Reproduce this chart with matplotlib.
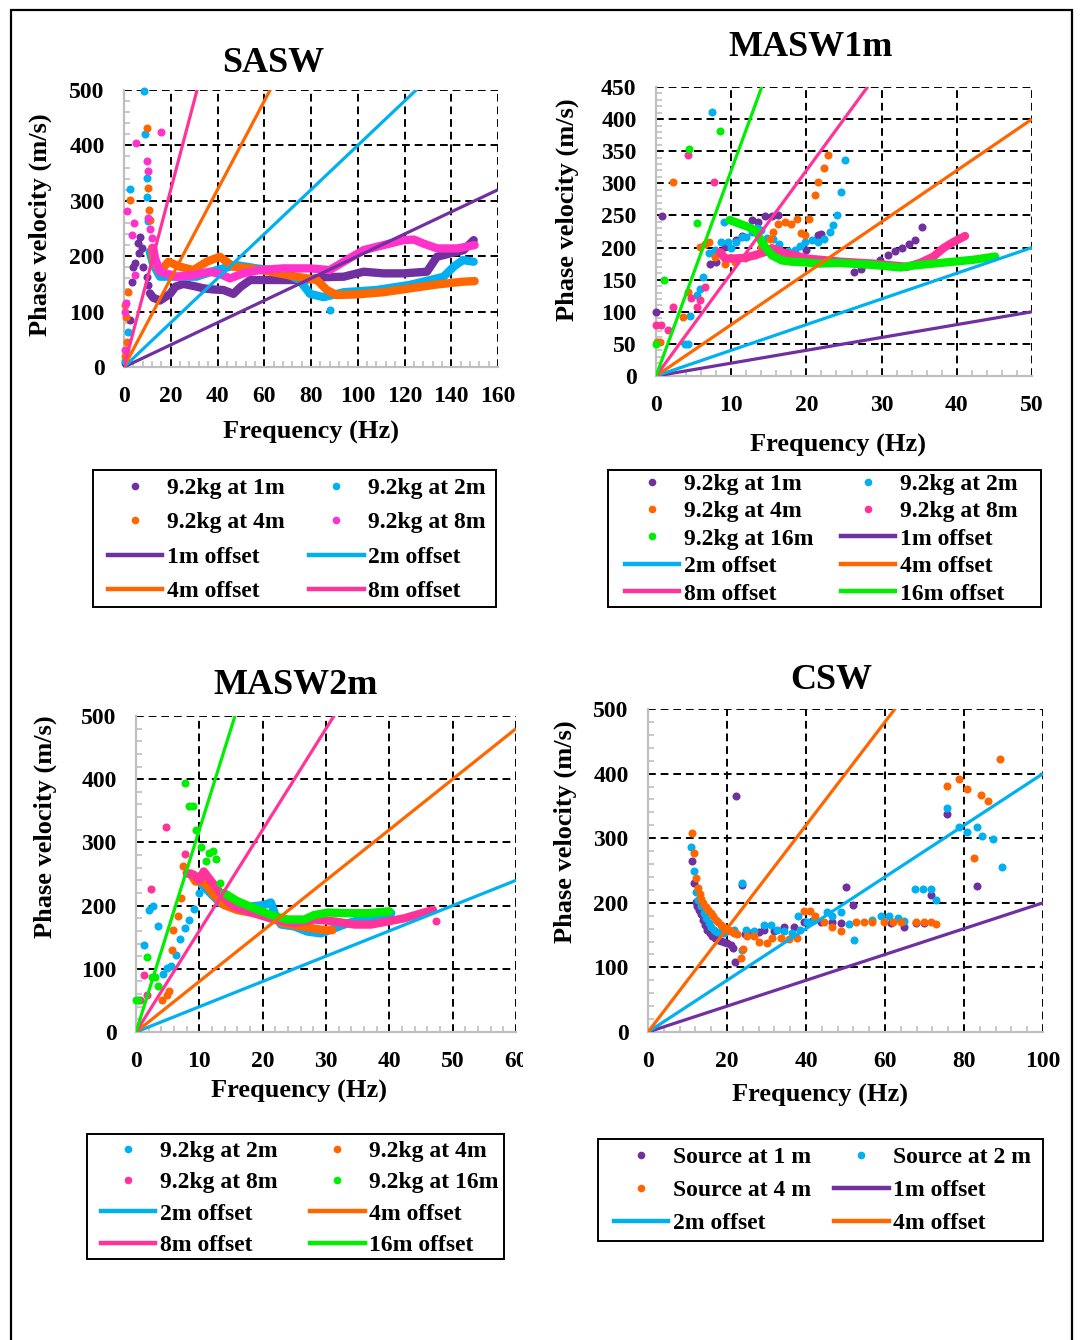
import matplotlib
matplotlib.use('Agg')
import matplotlib.pyplot as plt
from matplotlib.lines import Line2D
from matplotlib.ticker import MultipleLocator
from matplotlib.patches import Rectangle
from matplotlib.transforms import Bbox, TransformedBbox

plt.rcParams['font.family'] = ['Liberation Serif', 'DejaVu Serif']
plt.rcParams['font.weight'] = 'bold'

PURPLE = '#7030A0'
CYAN = '#00B0F0'
ORANGE = '#FF6600'
PINK = '#FF3399'
MAGENTA = '#FF33CC'
GREEN = '#00EE00'

# ---------------- SASW: (frequency Hz, phase velocity m/s) ----------------
sasw_offsets = [1, 2, 4, 8]
sasw_1m_dots = [(0.4, 7), (2.6, 85), (3.3, 154), (4.0, 181), (4.7, 187), (5.9, 223),
                (6.9, 235), (7.6, 214), (6.5, 205), (8.3, 181), (9.7, 163), (10.4, 148)]
sasw_1m_track = [(11.1, 133), (12.5, 125), (15.4, 120), (19.7, 132), (22.0, 145), (25.4, 150),
                 (30.0, 146), (34.0, 142), (38.0, 140), (42.5, 139), (46.8, 132), (50.0, 145),
                 (54.0, 157), (61.0, 157), (68.0, 157), (76.8, 157), (85.4, 162), (94.0, 163),
                 (102.5, 172), (111.0, 169), (119.6, 169), (129.6, 172), (133.9, 199),
                 (139.6, 205), (145.3, 211), (149.6, 229)]
sasw_2m_dots = [(0.4, 10), (1.0, 30), (1.9, 64), (2.6, 321), (8.6, 498), (9.0, 420),
                (9.7, 342), (10.0, 306), (10.4, 263), (88.0, 102)]
sasw_2m_track = [(11.0, 208), (12.5, 185), (15.4, 163), (21.4, 163), (31.0, 163), (39.7, 175),
                 (48.0, 184), (56.8, 178), (68.0, 172), (75.0, 157), (79.6, 132), (85.4, 126),
                 (94.0, 135), (108.0, 139), (122.0, 148), (131.0, 157), (136.7, 163),
                 (141.0, 181), (145.0, 193), (149.6, 190)]
sasw_4m_dots = [(0.4, 112), (0.7, 91), (1.1, 46), (0.5, 20), (1.9, 136), (2.6, 302),
                (9.7, 431), (10.4, 323), (10.9, 284), (11.2, 265)]
sasw_4m_track = [(12.0, 215), (12.6, 193), (15.4, 172), (19.0, 190), (24.0, 181), (29.7, 175),
                 (35.4, 190), (41.0, 199), (46.8, 181), (54.0, 178), (62.5, 172), (74.0, 163),
                 (82.5, 157), (86.8, 139), (91.0, 130), (99.6, 131), (111.0, 135),
                 (122.5, 142), (134.0, 149), (145.0, 154), (150.0, 155)]
sasw_8m_dots = [(0.4, 30), (0.3, 100), (0.7, 115), (1.1, 281), (3.6, 239), (4.3, 260),
                (5.0, 404), (4.7, 166), (9.7, 371), (10.4, 353), (10.4, 269), (11.0, 250),
                (11.9, 232), (15.7, 425)]
sasw_8m_track = [(12.5, 215), (13.3, 196), (15.4, 172), (22.5, 163), (29.7, 166), (36.8, 172),
                 (41.0, 168), (45.4, 160), (51.0, 169), (58.0, 175), (68.0, 178), (79.6, 178),
                 (88.0, 175), (94.0, 190), (102.5, 211), (111.0, 220), (119.6, 229),
                 (124.0, 230), (128.0, 223), (134.0, 214), (142.5, 214), (150.0, 220)]

# ---------------- MASW with 1 m spacing ----------------
masw1_offsets = [1, 2, 4, 8, 16]
masw1_1m_dots = [(0.0, 100), (0.84, 249), (7.2, 174), (8.0, 178), (9.2, 201), (10.7, 212),
                 (11.5, 218), (12.7, 243), (13.6, 240), (14.5, 249), (15.4, 249), (16.2, 250),
                 (20.0, 196), (21.6, 220), (22.0, 221), (26.3, 162), (27.2, 166), (29.8, 181),
                 (30.9, 189), (31.8, 195), (32.7, 200), (33.6, 205), (34.5, 212), (35.4, 232)]
masw1_2m_dots = [(3.85, 50), (4.3, 50), (4.5, 94), (5.5, 126), (5.9, 135), (6.3, 154),
                 (7.0, 191), (7.5, 411), (7.8, 196), (8.6, 209), (9.0, 240), (9.6, 209),
                 (10.0, 199), (10.7, 209), (11.4, 217), (12.0, 217), (12.7, 225), (13.4, 230),
                 (14.0, 228), (14.8, 215), (15.5, 213), (16.3, 205), (17.5, 195), (18.5, 196),
                 (19.2, 203), (19.8, 209), (20.7, 212), (21.5, 209), (22.4, 214), (23.1, 225),
                 (23.6, 235), (24.1, 250), (24.6, 287), (25.1, 336)]
masw1_4m_dots = [(0.1, 53), (0.5, 53), (2.3, 302), (3.6, 92), (4.2, 131), (5.8, 201),
                 (6.5, 205), (7.0, 209), (7.8, 185), (9.2, 175), (10.5, 178), (11.8, 183),
                 (13.1, 188), (14.0, 201), (15.1, 214), (15.6, 225), (16.2, 237), (17.1, 240),
                 (18.0, 237), (18.7, 245), (19.3, 222), (19.8, 219), (20.4, 245), (21.1, 282),
                 (21.6, 302), (22.3, 324), (22.9, 344)]
masw1_8m_dots = [(0.0, 79), (0.6, 79), (1.6, 71), (2.3, 108), (4.2, 344), (4.7, 121),
                 (5.4, 108), (5.8, 118), (6.5, 139), (7.7, 302)]
masw1_8m_track = [(8.5, 193), (9.2, 183), (10.5, 183), (11.8, 184), (13.1, 188), (14.5, 193),
                  (15.4, 199), (16.2, 196), (17.1, 191), (18.5, 188), (20.0, 183), (24.5, 178),
                  (28.9, 175), (33.4, 170), (35.1, 176), (36.9, 186), (38.2, 199), (39.6, 209),
                  (41.1, 218)]
masw1_16m_dots = [(0.0, 50), (1.0, 149), (4.4, 353), (5.4, 239), (8.5, 382)]
masw1_16m_track = [(9.8, 243), (10.9, 238), (12.3, 232), (13.4, 225), (13.8, 214), (14.5, 201),
                   (15.4, 188), (16.7, 180), (18.0, 178), (19.8, 177), (21.5, 175), (24.5, 176),
                   (28.9, 173), (32.5, 169), (34.2, 172), (37.8, 176), (42.2, 181), (45.1, 186)]

# ---------------- MASW with 2 m spacing ----------------
masw2_offsets = [2, 4, 8, 16]
masw2_2m_dots = [(1.3, 138), (2.0, 193), (2.75, 200), (3.4, 168), (4.2, 91), (4.9, 101),
                 (5.6, 104), (6.3, 122), (7.0, 147), (7.7, 164), (8.4, 178), (9.1, 194),
                 (9.9, 220)]
masw2_2m_track = [(10.4, 233), (11.7, 220), (13.3, 204), (15.4, 196), (18.6, 199), (20.2, 201),
                  (21.3, 205), (22.0, 185), (22.9, 170), (25.0, 167), (27.0, 159), (29.2, 156),
                  (30.8, 162), (33.4, 172), (35.6, 178), (37.7, 183), (40.3, 188)]
masw2_4m_dots = [(4.1, 51), (4.9, 59), (5.2, 65), (5.7, 130), (5.9, 162), (6.6, 184),
                 (7.1, 212), (7.4, 263)]
masw2_4m_track = [(8.6, 251), (9.4, 238), (10.7, 238), (12.3, 217), (13.9, 201), (16.0, 193),
                  (18.6, 188), (21.3, 183), (22.9, 173), (26.0, 167), (29.2, 162), (31.0, 161)]
masw2_8m_dots = [(0.6, 51), (1.2, 90), (1.7, 59), (2.3, 227), (4.8, 325), (7.8, 282), (47.3, 175)]
masw2_8m_track = [(8.0, 251), (9.1, 249), (10.0, 240), (10.7, 254), (11.7, 241), (13.3, 220),
                  (15.4, 199), (18.6, 188), (21.8, 178), (25.0, 172), (28.1, 178), (31.3, 175),
                  (34.5, 170), (37.1, 170), (39.8, 175), (42.4, 180), (45.1, 188), (46.9, 193)]
masw2_16m_dots = [(0.0, 51), (0.3, 51), (1.7, 119), (2.5, 87), (3.0, 87), (3.5, 73),
                  (7.8, 394), (8.3, 358), (9.0, 358), (9.5, 320), (10.2, 293), (11.0, 270),
                  (11.5, 283), (12.1, 287), (12.7, 273), (13.2, 236)]
masw2_16m_track = [(13.9, 220), (16.0, 207), (18.6, 196), (21.3, 185), (23.9, 178), (26.6, 178),
                   (28.1, 185), (30.3, 189), (33.4, 188), (36.6, 188), (40.0, 191)]

# ---------------- CSW ----------------
csw_offsets = [1, 2, 4]
csw_1m = [(11.1, 265), (11.6, 230), (12.1, 202), (12.5, 195), (12.9, 189), (13.3, 182),
          (13.8, 174), (14.4, 166), (15.0, 158), (15.6, 153), (16.3, 148), (17.0, 145),
          (17.6, 143), (18.4, 141), (19.2, 140), (20.1, 137), (20.9, 135), (21.6, 130),
          (21.9, 109), (22.4, 366), (23.9, 227), (24.5, 152), (26.0, 153), (28.0, 155),
          (29.4, 158), (31.9, 157), (34.4, 162), (37.0, 163), (39.5, 170), (41.5, 172),
          (43.7, 171), (46.7, 171), (48.8, 169), (50.0, 224), (51.9, 197), (61.4, 169),
          (64.8, 163), (67.8, 169), (69.9, 168), (71.7, 212), (75.6, 337), (83.4, 226)]
csw_2m = [(11.0, 286), (11.6, 249), (12.1, 216), (12.7, 205), (13.4, 195), (14.2, 184),
          (14.8, 176), (15.4, 169), (16.0, 163), (16.7, 158), (17.5, 155), (18.4, 153),
          (19.3, 154), (20.1, 156), (21.0, 157), (21.8, 158), (23.9, 231), (23.9, 127),
          (24.7, 158), (26.8, 157), (29.4, 166), (31.1, 165), (32.7, 158), (34.4, 157),
          (36.5, 153), (38.0, 179), (38.6, 158), (40.3, 171), (42.0, 174), (45.4, 186),
          (46.7, 179), (48.8, 186), (50.9, 167), (52.2, 143), (56.8, 174), (59.1, 180),
          (61.0, 179), (63.3, 176), (64.8, 172), (67.6, 221), (69.7, 221), (71.7, 221),
          (72.8, 205), (75.6, 347), (78.7, 318), (80.8, 309), (83.4, 317), (84.6, 303),
          (87.3, 299), (89.7, 256)]
csw_4m = [(11.1, 308), (11.6, 277), (12.1, 238), (12.7, 223), (13.1, 214), (13.5, 206),
          (14.0, 200), (14.6, 194), (15.2, 189), (15.9, 184), (16.5, 179), (17.1, 174),
          (17.8, 170), (18.4, 166), (19.0, 163), (19.7, 161), (20.3, 158), (20.9, 156),
          (21.7, 153), (22.6, 151), (23.5, 115), (24.0, 128), (25.1, 148), (26.8, 148),
          (28.1, 139), (30.0, 137), (31.5, 145), (33.6, 145), (35.7, 144), (37.8, 145),
          (39.5, 188), (41.0, 188), (42.4, 179), (44.6, 171), (46.7, 163), (48.8, 157),
          (52.6, 171), (54.7, 171), (56.8, 171), (59.7, 171), (61.9, 171), (64.0, 171),
          (67.8, 171), (69.9, 171), (71.7, 171), (72.8, 167), (75.6, 381), (78.7, 392),
          (80.8, 376), (82.5, 269), (84.4, 367), (86.2, 358), (89.1, 422)]

OFFSET_COLORS = {1: PURPLE, 2: CYAN, 4: ORANGE, 8: PINK, 16: GREEN}

FS_TICK = 17
FS_LABEL = 19
FS_TITLE = 26
FS_LEG = 17
DOT = 5.8
W, H = 1081, 1340

fig = plt.figure(figsize=(W / 100, H / 100), dpi=100)

# outer frame
fig.add_artist(Rectangle((11 / W, -0.05), (1072 - 11) / W, 1 - 10 / H + 0.05,
                         transform=fig.transFigure, fill=False, edgecolor='black', lw=1.6))


def px_axes(l, r, t, b):
    return fig.add_axes([l / W, 1 - b / H, (r - l) / W, (b - t) / H])


def style(ax, xmax, xmaj, xmin, ymax, ymaj, ymin):
    ax.set_xlim(0, xmax)
    ax.set_ylim(0, ymax)
    ax.xaxis.set_major_locator(MultipleLocator(xmaj))
    ax.xaxis.set_minor_locator(MultipleLocator(xmin))
    ax.yaxis.set_major_locator(MultipleLocator(ymaj))
    ax.yaxis.set_minor_locator(MultipleLocator(ymin))
    ax.grid(True, which='major', color='black', lw=1.4, ls=(0, (4, 2.5)))
    for s in ('top', 'right'):
        ax.spines[s].set_visible(False)
    for s in ('left', 'bottom'):
        ax.spines[s].set_color('#BFBFBF')
        ax.spines[s].set_linewidth(1.6)
        ax.spines[s].set_zorder(2.6)
    ax.tick_params(which='major', length=0, pad=14, labelsize=FS_TICK)
    ax.tick_params(which='minor', direction='in', length=4, width=1.2, color='#BFBFBF')


def ref_lines(ax, offsets, xmax):
    for off in offsets:
        ax.plot([0, xmax], [0, 2 * off * xmax], color=OFFSET_COLORS[off], lw=2.3,
                zorder=4, solid_capstyle='butt')


def dots(ax, pts, color):
    f = [p[0] for p in pts]
    v = [p[1] for p in pts]
    ax.plot(f, v, 'o', color=color, ms=DOT, mec='none', zorder=3, clip_on=False)


def track(ax, pts, color):
    f = [p[0] for p in pts]
    v = [p[1] for p in pts]
    ax.plot(f, v, '-', color=color, lw=6.0, solid_capstyle='round',
            solid_joinstyle='round', zorder=3)


def labels(ax, title, tpos, xpos, ypos):
    ax.set_title(title, fontsize=FS_TITLE, fontweight='bold', x=tpos[0], y=tpos[1],
                 va='center', pad=0)
    ax.set_xlabel('Frequency (Hz)', fontsize=FS_LABEL, fontweight='bold')
    ax.xaxis.set_label_coords(*xpos)
    ax.xaxis.label.set_va('center')
    ax.set_ylabel('Phase velocity (m/s)', fontsize=FS_LABEL, fontweight='bold')
    ax.yaxis.set_label_coords(*ypos)
    ax.yaxis.label.set_va('center')


def dot_handle(color):
    return Line2D([], [], marker='o', ls='none', color=color, ms=5.5, mec='none')


def line_handle(color):
    return Line2D([], [], color=color, lw=3.2)


def legend(handles, labels_, box, handle_x, row1_y, colsp, spacing):
    l, r, t, b = box
    fig.add_artist(Rectangle((l / W, 1 - b / H), (r - l) / W, (b - t) / H,
                             transform=fig.transFigure, fill=False,
                             edgecolor='black', lw=1.4))
    leg = fig.legend(handles, labels_, ncol=2, loc='upper left',
                     bbox_to_anchor=(handle_x / W, 1 - (row1_y - 10.75) / H),
                     bbox_transform=fig.transFigure, borderaxespad=0, borderpad=0,
                     fontsize=FS_LEG, frameon=False, handlelength=2.3,
                     handletextpad=0.18, labelspacing=spacing, columnspacing=colsp)
    for t_ in leg.get_texts():
        t_.set_fontweight('bold')
    return leg


# ---- SASW ----
ax1 = px_axes(124, 498, 90, 367)
style(ax1, 160, 20, 4, 500, 100, 20)
dots(ax1, sasw_1m_dots, PURPLE)
track(ax1, sasw_1m_track, PURPLE)
dots(ax1, sasw_2m_dots, CYAN)
track(ax1, sasw_2m_track, CYAN)
dots(ax1, sasw_4m_dots, ORANGE)
track(ax1, sasw_4m_track, ORANGE)
dots(ax1, sasw_8m_dots, MAGENTA)
track(ax1, sasw_8m_track, MAGENTA)
ref_lines(ax1, sasw_offsets, 160)
labels(ax1, 'SASW', (0.398, 1.094), (0.5, -0.235), (-0.2246, 0.513))
legend([dot_handle(PURPLE), dot_handle(ORANGE), line_handle(PURPLE), line_handle(ORANGE),
        dot_handle(CYAN), dot_handle(MAGENTA), line_handle(CYAN), line_handle(PINK)],
       ['9.2kg at 1m', '9.2kg at 4m', '1m offset', '4m offset',
        '9.2kg at 2m', '9.2kg at 8m', '2m offset', '8m offset'],
       (93, 496, 470, 607), 108, 488, 1.06, 0.55)

# ---- MASW 1m ----
ax2 = px_axes(656, 1032, 87, 376)
style(ax2, 50, 10, 2, 450, 50, 10)
dots(ax2, masw1_1m_dots, PURPLE)
dots(ax2, masw1_2m_dots, CYAN)
dots(ax2, masw1_4m_dots, ORANGE)
dots(ax2, masw1_8m_dots, PINK)
track(ax2, masw1_8m_track, PINK)
dots(ax2, masw1_16m_dots, GREEN)
track(ax2, masw1_16m_track, GREEN)
ref_lines(ax2, masw1_offsets, 50)
labels(ax2, 'MASW1m', (0.412, 1.136), (0.484, -0.242), (-0.237, 0.574))
legend([dot_handle(PURPLE), dot_handle(ORANGE), dot_handle(GREEN), line_handle(CYAN),
        line_handle(PINK), dot_handle(CYAN), dot_handle(PINK), line_handle(PURPLE),
        line_handle(ORANGE), line_handle(GREEN)],
       ['9.2kg at 1m', '9.2kg at 4m', '9.2kg at 16m', '2m offset', '8m offset',
        '9.2kg at 2m', '9.2kg at 8m', '1m offset', '4m offset', '16m offset'],
       (608, 1041, 470, 607), 625, 484, 1.19, 0.25)

# ---- MASW 2m ----
ax3 = px_axes(136, 516, 716, 1032)
style(ax3, 60, 10, 2, 500, 100, 20)
dots(ax3, masw2_2m_dots, CYAN)
track(ax3, masw2_2m_track, CYAN)
dots(ax3, masw2_4m_dots, ORANGE)
track(ax3, masw2_4m_track, ORANGE)
dots(ax3, masw2_8m_dots, PINK)
track(ax3, masw2_8m_track, PINK)
dots(ax3, masw2_16m_dots, GREEN)
track(ax3, masw2_16m_track, GREEN)
ref_lines(ax3, masw2_offsets, 60)
labels(ax3, 'MASW2m', (0.421, 1.095), (0.429, -0.187), (-0.239, 0.649))
legend([dot_handle(CYAN), dot_handle(PINK), line_handle(CYAN), line_handle(PINK),
        dot_handle(ORANGE), dot_handle(GREEN), line_handle(ORANGE), line_handle(GREEN)],
       ['9.2kg at 2m', '9.2kg at 8m', '2m offset', '8m offset',
        '9.2kg at 4m', '9.2kg at 16m', '4m offset', '16m offset'],
       (87, 504, 1134, 1259), 101, 1151, 1.4, 0.42)

# ---- CSW ----
ax4 = px_axes(648, 1043, 709, 1032)
style(ax4, 100, 20, 4, 500, 100, 20)
dots(ax4, csw_1m, PURPLE)
dots(ax4, csw_2m, CYAN)
dots(ax4, csw_4m, ORANGE)
ref_lines(ax4, csw_offsets, 100)
labels(ax4, 'CSW', (0.463, 1.087), (0.435, -0.195), (-0.210, 0.619))
legend([dot_handle(PURPLE), dot_handle(ORANGE), line_handle(CYAN),
        dot_handle(CYAN), line_handle(PURPLE), line_handle(ORANGE)],
       ['Source at 1 m', 'Source at 4 m', '2m offset',
        'Source at 2 m', '1m offset', '4m offset'],
       (598, 1043, 1139, 1241), 614, 1157, 1.0, 0.5)

# the right-most frequency label of the MASW2m panel is cut by its chart area
fig.canvas.draw()
clip = TransformedBbox(Bbox.from_extents(0, 0, 523 / W, 1), fig.transFigure)
for lab in ax3.get_xticklabels():
    if lab.get_text() == '60':
        lab.set_clip_box(clip)
        lab.set_clip_on(True)

fig.savefig('out.png', dpi=100)
